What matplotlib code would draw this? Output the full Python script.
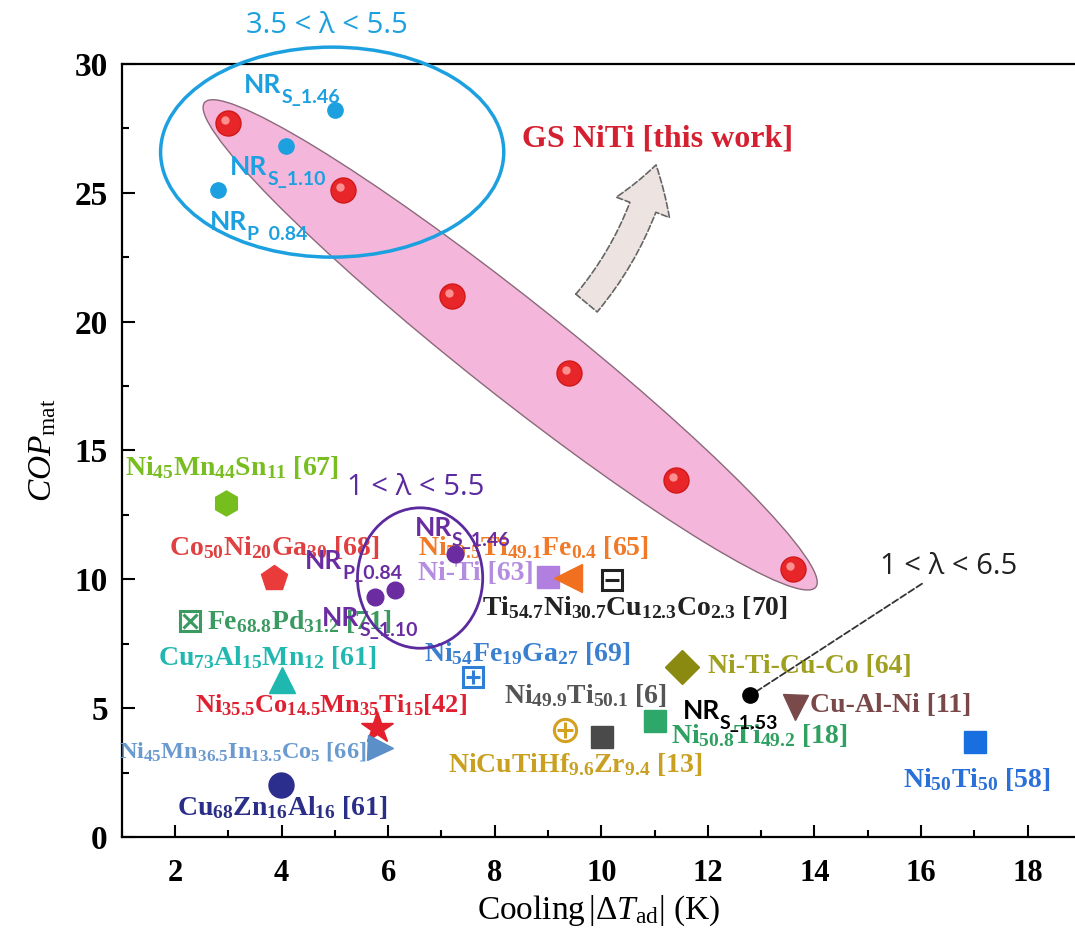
import matplotlib
matplotlib.use("Agg")
import matplotlib.pyplot as plt
from matplotlib.patches import Ellipse, FancyArrowPatch
from matplotlib.transforms import ScaledTranslation, offset_copy
from matplotlib.ticker import MultipleLocator

plt.rcParams['mathtext.fontset'] = 'custom'
plt.rcParams['mathtext.rm'] = 'Liberation Serif'
plt.rcParams['mathtext.it'] = 'Liberation Serif:italic'
plt.rcParams['mathtext.bf'] = 'Liberation Serif:bold'
plt.rcParams['font.family'] = 'Liberation Serif'

# GS NiTi (this work)
gs_x = [3.0, 5.15, 7.2, 9.4, 11.4, 13.6]
gs_y = [27.7, 25.1, 21.0, 18.0, 13.85, 10.4]

# NR points, three groups
nr_blue_x = [5.0, 4.08, 2.81]
nr_blue_y = [28.2, 26.8, 25.1]
nr_blue_sub = ['S_1.46', 'S_1.10', 'P  0.84']
nr_purple_x = [7.25, 6.13, 5.76]
nr_purple_y = [11.0, 9.6, 9.3]
nr_purple_sub = ['S_1.46', 'P_0.84', 'S_1.10']
nr_black_x = [12.8]
nr_black_y = [5.5]

# literature materials
mat_names = [r'Ni_{45}Mn_{44}Sn_{11} [67]', r'Co_{50}Ni_{20}Ga_{30} [68]', r'Fe_{68.8}Pd_{31.2} [71]',
             r'Cu_{73}Al_{15}Mn_{12} [61]', r'Ni_{35.5}Co_{14.5}Mn_{35}Ti_{15}[42]',
             r'Ni_{45}Mn_{36.5}In_{13.5}Co_{5} [66]', r'Cu_{68}Zn_{16}Al_{16} [61]', 'Ni-Ti [63]',
             r'Ni_{50.5}Ti_{49.1}Fe_{0.4} [65]', r'Ti_{54.7}Ni_{30.7}Cu_{12.3}Co_{2.3} [70]',
             r'Ni_{54}Fe_{19}Ga_{27} [69]', r'Ni_{49.9}Ti_{50.1} [6]', r'NiCuTiHf_{9.6}Zr_{9.4} [13]',
             r'Ni_{50.8}Ti_{49.2} [18]', 'Ni-Ti-Cu-Co [64]', 'Cu-Al-Ni [11]', r'Ni_{50}Ti_{50} [58]']
mat_x = [2.95, 3.85, 2.28, 4.0, 5.79, 5.84, 3.99, 9.0, 9.38, 10.2, 7.59, 10.02, 9.32, 11.0, 11.51, 13.63, 17.01]
mat_y = [12.96, 10.05, 8.38, 6.09, 4.23, 3.45, 2.02, 10.09, 10.05, 9.97, 6.21, 3.88, 4.15, 4.5, 6.6, 5.04, 3.69]
mat_colors = ['#76bd1e', '#ea3b3b', '#3a9a60', '#1fb8b0', '#e3202c', '#5b8fc8', '#2b2e8c', '#b07fe0',
              '#f07020', '#222222', '#2d7fd8', '#4a4a4a', '#d4a020', '#2ea86a', '#8a8a10', '#7a4a4a', '#1a6fe0']
mat_label_colors = ['#78be20', '#e04040', '#3a9a60', '#20b8b0', '#e02030', '#6a9ad0', '#2a2e88', '#b58de0',
                    '#f07a28', '#222222', '#3a80d0', '#555555', '#c9a020', '#2ea060', '#a0a020', '#7a4848', '#2a70d8']
mat_markers = ['h', 'p', 'sx', '^', '*', '>', 'o', 's', '<', 's_', 's+', 's', 'o+', 's', 'D', 'v', 's']
mat_sizes = [18, 19, 14, 19, 24, 18, 18, 16, 20, 14, 14, 16, 16, 16, 17, 18, 16]
# label placement (x, y, ha) and font size
mat_label_pos = [(3.07, 14.35, 'center'), (3.87, 11.24, 'center'), (2.6, 8.38, 'left'),
                 (3.73, 6.98, 'center'), (4.93, 5.1, 'center'), (5.6, 3.3, 'right'),
                 (4.01, 1.13, 'center'), (8.73, 10.24, 'right'), (6.56, 11.24, 'left'),
                 (10.63, 8.89, 'center'), (8.6, 7.14, 'center'), (9.7, 5.5, 'center'),
                 (9.51, 2.8, 'center'), (11.3, 3.95, 'left'), (12.0, 6.6, 'left'),
                 (13.92, 5.12, 'left'), (17.05, 2.25, 'center')]
mat_label_size = [20, 20, 20, 20, 19, 17.5, 20, 20, 20, 20, 20, 20, 20, 20, 20, 20, 20]


def to_math(s):
    if '_' not in s:
        return s
    return '$\\mathbf{' + s.replace(' ', '\\ ') + '}$'


fig = plt.figure(figsize=(10.75, 9.4), dpi=100)
ax = fig.add_axes([0.1132, 0.1096, 0.8868, 0.8223])
ax.set_xlim(1, 18.89)
ax.set_ylim(0, 30)

# pink band round the GS NiTi points
pink = Ellipse((0, 0), 7.8, 0.96, angle=-38.4, facecolor='#f4b6da', edgecolor='#8a6a7a', lw=1.0,
               transform=fig.dpi_scale_trans + ScaledTranslation(8.29, 19.1, ax.transData), zorder=1)
ax.add_patch(pink)

# GS NiTi spheres
ax.plot(gs_x, gs_y, 'o', ms=18, color='#e8262a', mec='#d01818', zorder=5)
ax.plot(gs_x, gs_y, 'o', ms=6, color='#ff9c9c', mec='none', alpha=0.9, zorder=6,
        transform=offset_copy(ax.transData, fig=fig, x=-3, y=3, units='dots'))

# literature markers
for x, y, m, c, s in zip(mat_x, mat_y, mat_markers, mat_colors, mat_sizes):
    if len(m) == 2:
        base, inner = m
        ax.plot(x, y, base, ms=s, mfc='white', mec=c, mew=2.2, zorder=4)
        ax.plot(x, y, inner, ms=s * 0.75, color=c, mew=2.2, zorder=4)
    else:
        ax.plot(x, y, m, ms=s, color=c, mec=c, zorder=4)

for name, (lx, ly, ha), c, fs in zip(mat_names, mat_label_pos, mat_label_colors, mat_label_size):
    ax.text(lx, ly, to_math(name), color=c, fontsize=fs, fontweight='bold', ha=ha, va='center', zorder=3)

# NR points
ax.plot(nr_blue_x, nr_blue_y, 'o', ms=11, color='#1ca0e0', zorder=5)
ax.plot(nr_purple_x, nr_purple_y, 'o', ms=12, color='#6a2ca0', zorder=5)
ax.plot(nr_black_x, nr_black_y, 'o', ms=11, color='black', zorder=5)


def nr_label(x, y, sub, color):
    t = ax.text(x, y, 'NR', color=color, fontsize=19, fontweight='bold', family='Lato',
                ha='left', va='center', zorder=7)
    ax.annotate(sub, xy=(1, 0.15), xycoords=t, xytext=(0, -3), textcoords='offset points',
                color=color, fontsize=14, fontweight='bold', family='Lato', ha='left', va='center', zorder=7)


for (x, y), s in zip([(3.3, 29.2), (3.03, 26.0), (2.66, 23.86)], nr_blue_sub):
    nr_label(x, y, s, '#1ca0e0')
for (x, y), s in zip([(6.5, 12.0), (4.44, 10.7), (4.76, 8.5)], nr_purple_sub):
    nr_label(x, y, s, '#6a2ca0')
nr_label(11.53, 4.9, 'S_1.53', 'black')

# lambda groups
ax.add_patch(Ellipse((4.95, 26.58), 6.44, 8.15, fill=False, ec='#1ca0e0', lw=2.5, clip_on=False, zorder=6))
ax.text(4.85, 31.5, '3.5 < λ < 5.5', color='#1ca0e0', fontsize=21, family='Open Sans', ha='center', va='center')
ax.add_patch(Ellipse((6.6, 10.05), 2.35, 5.45, fill=False, ec='#5b2a9e', lw=2.0, zorder=6))
ax.text(6.51, 13.58, '1 < λ < 5.5', color='#5b2a9e', fontsize=21, family='Open Sans', ha='center', va='center')
ax.annotate('1 < λ < 6.5', xy=(nr_black_x[0], nr_black_y[0]), xytext=(15.23, 10.5),
            fontsize=21, family='Open Sans', color='#222222', ha='left', va='center',
            arrowprops=dict(arrowstyle='-', ls='--', color='#333333', lw=1.3, shrinkA=0, shrinkB=2))

# curved arrow + GS label
arr = FancyArrowPatch((9.69, 20.64), (11.04, 26.19), connectionstyle='arc3,rad=0.12',
                      arrowstyle='simple,head_width=4.1,head_length=3.2,tail_width=2.0',
                      mutation_scale=10, fc='#ede3e0', ec='#666666', lw=1.2, ls='--', zorder=4)
ax.add_patch(arr)
ax.text(11.05, 27.09, 'GS NiTi [this work]', color='#d42030', fontsize=23, fontweight='bold',
        ha='center', va='center')

# axes styling
ax.spines['right'].set_visible(False)
for sp in ['left', 'bottom', 'top']:
    ax.spines[sp].set_linewidth(1.6)
ax.xaxis.set_major_locator(MultipleLocator(2))
ax.xaxis.set_minor_locator(MultipleLocator(1))
ax.yaxis.set_major_locator(MultipleLocator(5))
ax.yaxis.set_minor_locator(MultipleLocator(2.5))
ax.tick_params(which='both', direction='in', width=1.5, top=False, right=False)
ax.tick_params(which='major', length=9)
ax.tick_params(axis='x', which='major', labelsize=22, pad=16)
ax.tick_params(axis='y', which='major', labelsize=24, pad=10)
ax.tick_params(which='minor', length=5)
for lab in ax.get_xticklabels() + ax.get_yticklabels():
    lab.set_fontweight('bold')

ax.set_xlabel(r'Cooling$\,|\Delta \mathit{T}_{\mathrm{ad}}|$ (K)', fontsize=24, labelpad=4)
ax.set_ylabel(r'$\mathit{COP}_{\mathrm{mat}}$', fontsize=24, labelpad=12)

fig.savefig('out.png', dpi=100)
